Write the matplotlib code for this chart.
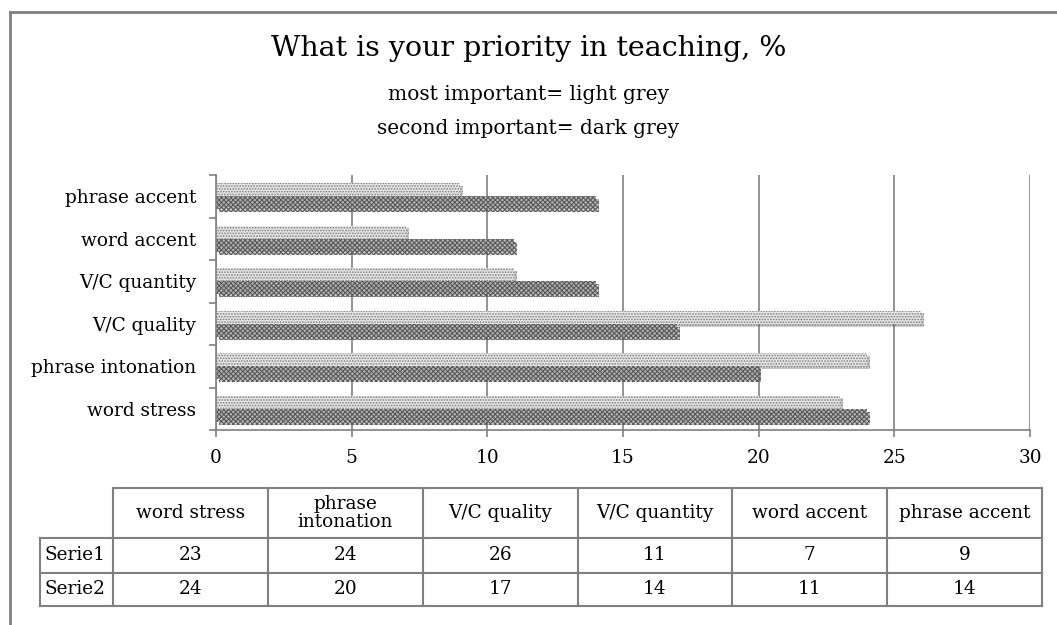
#!/usr/bin/env python3
import numpy as np
import matplotlib
matplotlib.use("Agg")
import matplotlib.pyplot as plt
import matplotlib.patheffects as pe
from matplotlib.lines import Line2D

categories = ["word stress", "phrase intonation", "V/C quality",
              "V/C quantity", "word accent", "phrase accent"]
table_headers = ["word stress", "phrase\nintonation", "V/C quality",
                 "V/C quantity", "word accent", "phrase accent"]
series_names = ["Serie1", "Serie2"]
serie1 = [23, 24, 26, 11, 7, 9]
serie2 = [24, 20, 17, 14, 11, 14]

plt.rcParams['font.family'] = ['DejaVu Serif']
plt.rcParams['hatch.linewidth'] = 0.8
W, H = 1057, 625
fig = plt.figure(figsize=(W/100, H/100), dpi=100)
grey = '#808080'

def fx(px): return px / W
def fy(py): return 1 - py / H

# frame lines (left and top of the chart border)
fig.add_artist(Line2D([fx(10), fx(10)], [fy(12), fy(625)], color=grey, lw=2))
fig.add_artist(Line2D([fx(10), fx(1057)], [fy(12), fy(12)], color=grey, lw=2))

fig.text(0.5, fy(48), "What is your priority in teaching, %", ha='center', va='center', fontsize=20.5)
fig.text(0.5, fy(95), "most important= light grey", ha='center', va='center', fontsize=14.5)
fig.text(0.5, fy(128), "second important= dark grey", ha='center', va='center', fontsize=14.5)

ax = fig.add_axes([fx(216), fy(430), fx(1030) - fx(216), fy(175) - fy(430)])
y = np.arange(len(categories))
h = 0.31
shadow = [pe.SimplePatchShadow(offset=(2, -2), alpha=0.25), pe.Normal()]
b1 = ax.barh(y + h/2, serie1, height=h, color='#e6e6e6', edgecolor='#7a7a7a',
             hatch='......', linewidth=0)
b2 = ax.barh(y - h/2, serie2, height=h, color='#b2b2b2', edgecolor='#5a5a5a',
             hatch='xxxxxxx', linewidth=0)
for b in list(b1) + list(b2):
    b.set_path_effects(shadow)

ax.set_xlim(0, 30)
ax.set_ylim(-0.5, len(categories) - 0.5)
ax.set_xticks(range(0, 31, 5))
ax.set_yticks(y)
ax.set_yticklabels(categories)
ax.set_yticks(np.arange(-0.5, len(categories)), minor=True)
ax.tick_params(axis='y', which='major', length=0, labelsize=13.3, pad=14)
ax.tick_params(axis='y', which='minor', length=5, color=grey, width=1.2)
ax.tick_params(axis='x', length=5, color=grey, width=1.2, labelsize=13.3, pad=9)
ax.grid(axis='x', color=grey, lw=1.2)
ax.set_axisbelow(True)
for s in ['top', 'right']:
    ax.spines[s].set_visible(False)
for s in ['left', 'bottom']:
    ax.spines[s].set_color(grey)
    ax.spines[s].set_linewidth(1.2)

# data table below the chart
col_x = np.linspace(113, 1042, len(categories) + 1)
row_y = [488, 538, 573, 606]
lc = dict(color=grey, lw=1.5)
fig.add_artist(Line2D([fx(113), fx(1042)], [fy(488), fy(488)], **lc))
for ry in row_y[1:]:
    fig.add_artist(Line2D([fx(40), fx(1042)], [fy(ry), fy(ry)], **lc))
for cx in col_x:
    fig.add_artist(Line2D([fx(cx), fx(cx)], [fy(488), fy(606)], **lc))
fig.add_artist(Line2D([fx(40), fx(40)], [fy(538), fy(606)], **lc))

for i, head in enumerate(table_headers):
    cx = (col_x[i] + col_x[i+1]) / 2
    fig.text(fx(cx), fy(513), head, ha='center', va='center', fontsize=13.3,
             linespacing=1.0)
for r, (name, vals) in enumerate(zip(series_names, [serie1, serie2])):
    cy = (row_y[r+1] + row_y[r+2]) / 2
    fig.text(fx(44), fy(cy), name, ha='left', va='center', fontsize=13.3)
    for i, v in enumerate(vals):
        cx = (col_x[i] + col_x[i+1]) / 2
        fig.text(fx(cx), fy(cy), str(v), ha='center', va='center', fontsize=13.3)

fig.savefig("out.png", dpi=100)
